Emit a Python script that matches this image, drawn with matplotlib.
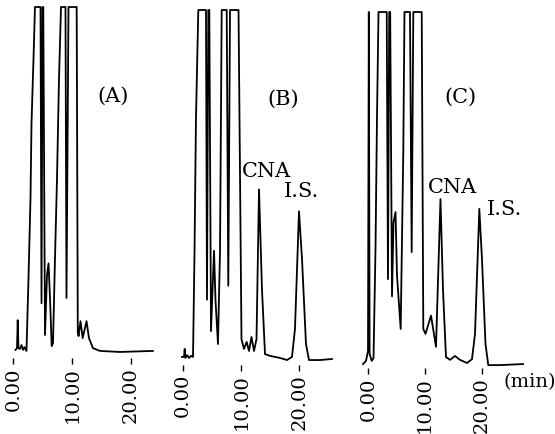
import matplotlib
matplotlib.use("Agg")
import matplotlib.pyplot as plt

plt.rcParams["font.family"] = ["DejaVu Serif"]

# retention time (min) and detector signal (% of full scale, 100 = off scale)
time_a = [0.37, 0.63, 0.75, 0.87, 1.14, 1.39, 1.65, 1.90, 2.24, 2.58, 2.92, 3.09,
          3.43, 3.68, 4.62, 4.79, 4.96, 5.09, 5.38, 5.72, 5.98, 6.23, 6.52, 6.74,
          7.08, 7.42, 7.76, 8.10, 8.86, 9.03, 9.37, 10.76, 10.95, 11.09, 11.41,
          11.78, 12.43, 12.85, 13.53, 14.72, 18.1, 23.7]
signal_a = [0.9, 1.4, 9.5, 1.4, 1.2, 2.3, 0.9, 1.7, 0.6, 21.6, 44.7, 66.3,
            85, 100, 100, 14.4, 100, 100, 5.2, 22.5, 25.9, 15.9, 2.0, 2.9,
            27.4, 50.4, 79.3, 100, 100, 15.9, 100, 100, 5.8, 4.9, 9.2,
            4.3, 9.2, 4.3, 1.4, 0.6, 0.3, 0.6]

time_b = [-0.17, 0.17, 0.29, 0.43, 0.69, 1.03, 1.37, 1.72, 1.98, 2.23, 2.63, 3.95,
          4.12, 4.35, 4.52, 4.81, 5.33, 5.58, 6.01, 6.36, 6.65, 7.51, 7.78, 8.08,
          9.54, 10.05, 10.48, 10.94, 11.34, 11.77, 12.20, 12.63, 13.06, 13.57,
          14.09, 14.95, 16.67, 17.87, 18.73, 19.24, 19.93, 20.45, 21.13, 21.65,
          23.54, 25.6]
signal_b = [0.6, 0.6, 2.9, 0.3, 1.1, 0.3, 0.9, 0.6, 31, 69, 100, 100,
            17, 100, 100, 8, 31, 17, 4.3, 31, 100, 100, 21, 100,
            100, 5.7, 2.9, 4.9, 2.3, 6.3, 2.3, 5.7, 48.6, 20,
            1.4, 0.9, 0.3, -0.3, 0.6, 8.6, 42.3, 28.6, 4.3, -0.3,
            -0.3, 0.0]

time_c = [-0.93, -0.41, -0.05, 0.09, 0.23, 0.60, 0.92, 1.27, 1.53, 1.80, 3.25, 3.47,
          3.69, 3.86, 4.18, 4.44, 4.80, 5.06, 5.71, 6.17, 6.38, 7.35, 7.65, 7.94,
          9.42, 9.70, 10.09, 11.06, 11.94, 12.73, 13.17, 13.70, 14.41, 15.29,
          16.17, 17.41, 18.29, 18.82, 19.58, 20.05, 20.67, 21.16, 23.22, 27.28]
signal_c = [-0.3, 0.6, 3.4, 100, 2.6, 0.6, 1.4, 32.5, 69.5, 100, 100, 23.9,
            100, 100, 19, 40, 43, 25, 9.7, 60, 100, 100, 31.6, 100,
            100, 9.7, 8.3, 13.5, 4.6, 46.7, 21, 1.7, 0.9, 2.0,
            0.9, 0.0, 1.1, 8.3, 43.9, 29.6, 5.4, -0.6, -0.6, -0.3]

tick_values = [0, 10, 20]
tick_labels = ["0.00", "10.00", "20.00"]
panel_labels = ["(A)", "(B)", "(C)"]

W, H = 555, 435
fig = plt.figure(figsize=(W / 100, H / 100), dpi=100)

# layout per panel in pixels: x of t=0, px per min, y of signal 0, y of 100, xlim, ylim bottom
layout = [
    dict(x0=13.3, sx=5.89, y0=354, ytop=8, xlim=(-0.5, 24.0), ybot=-1.5),
    dict(x0=183.0, sx=5.82, y0=360, ytop=11, xlim=(-0.5, 26.0), ybot=-1.6),
    dict(x0=368.3, sx=5.67, y0=364, ytop=13, xlim=(-1.2, 27.6), ybot=-1.5),
]
series = [(time_a, signal_a), (time_b, signal_b), (time_c, signal_c)]
label_pos = [(16.9, 74.6), (17.2, 74.8), (16.2, 76.1)]

axes = []
for lay, (t, s), lab, lpos in zip(layout, series, panel_labels, label_pos):
    sy = (lay["y0"] - lay["ytop"]) / 100.0
    left = lay["x0"] + lay["xlim"][0] * lay["sx"]
    width = (lay["xlim"][1] - lay["xlim"][0]) * lay["sx"]
    bottom = lay["y0"] - lay["ybot"] * sy
    height = bottom - lay["ytop"]
    ax = fig.add_axes([left / W, 1 - bottom / H, width / W, height / H])
    ax.plot(t, s, color="black", lw=1.3, clip_on=False)
    ax.set_xlim(*lay["xlim"])
    ax.set_ylim(lay["ybot"], 100)
    for sp in ax.spines.values():
        sp.set_visible(False)
    ax.set_yticks([])
    ax.set_xticks(tick_values)
    ax.set_xticklabels(tick_labels, rotation=90, fontsize=14)
    ax.tick_params(axis="x", length=4, width=1, pad=2, direction="out")
    ax.patch.set_alpha(0)
    ax.text(lpos[0], lpos[1], lab, fontsize=15, ha="center", va="center")
    axes.append(ax)

axes[1].text(14.3, 53.9, "CNA", fontsize=15, ha="center", va="center")
axes[1].text(20.3, 48.4, "I.S.", fontsize=15, ha="center", va="center")
axes[2].text(14.8, 50.4, "CNA", fontsize=15, ha="center", va="center")
axes[2].text(24.1, 43.9, "I.S.", fontsize=15, ha="center", va="center")
axes[2].text(28.5, -5.1, "(min)", fontsize=14, ha="center", va="center", clip_on=False)

fig.savefig("out.png", dpi=100)
